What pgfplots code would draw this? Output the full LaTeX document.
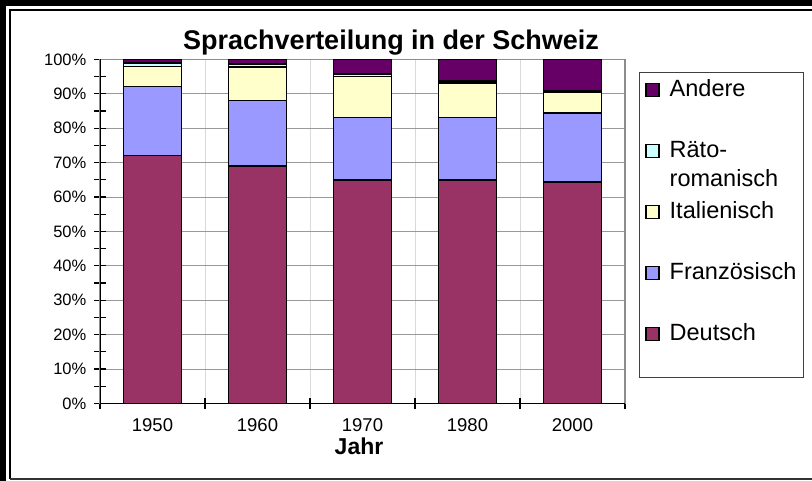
\documentclass[border=0pt]{standalone}
\usepackage{pgfplots}
\pgfplotsset{compat=1.18}
\usepackage{fontspec}
\setmainfont{Liberation Sans}
\definecolor{deu}{HTML}{993366}
\definecolor{fra}{HTML}{9999FF}
\definecolor{ita}{HTML}{FFFFCC}
\definecolor{rae}{HTML}{CCFFFF}
\definecolor{and}{HTML}{660066}
\pgfplotsset{sqleg/.style={legend image code/.code={\draw[##1,line width=1.3bp] (0bp,6.5bp) rectangle (13bp,19.5bp);}}}
\begin{document}
\begin{tikzpicture}
\useasboundingbox (0,0) rectangle (812bp,481bp);
\begin{axis}[
  at={(100bp,77.5bp)}, anchor=south west,
  width=525bp, height=344bp, scale only axis,
  ybar stacked, bar width=58bp,
  xmin=-0.5, xmax=4.5, ymin=0, ymax=100,
  xtick={-0.5,0.5,...,4.5}, xticklabels={},
  extra x ticks={0,1,2,3,4},
  extra x tick labels={1950,1960,1970,1980,2000},
  extra x tick style={grid=none, major tick length=0pt},
  ytick={0,10,...,100}, minor y tick num=1,
  yticklabel={\pgfmathprintnumber{\tick}\%},
  /pgf/number format/assume math mode=true,
  tick align=center, tick pos=left,
  major tick length=11bp, minor tick length=11bp,
  tick style={black, line width=1.2bp},
  xmajorgrids, ymajorgrids,
  x grid style={draw=black!15, line width=1bp},
  y grid style={draw=black!40, line width=1bp},
  axis line style={draw=black!45, line width=1.2bp},
  yticklabel style={font=\fontsize{16.5bp}{18bp}\selectfont, inner sep=0pt, xshift=-8bp},
  xticklabel style={font=\fontsize{18.5bp}{20bp}\selectfont, inner sep=0pt, yshift=-15bp},
  reverse legend,
  legend cell align=left,
  legend style={at={(1.02667,0.96366)}, anchor=north west, draw=black!75, line width=0.8bp,
    inner xsep=6bp, inner ysep=0pt, column sep=10bp,
    nodes={font=\fontsize{23.5bp}{29bp}\selectfont, text height=24bp, text depth=37bp,
      inner sep=0pt, text width=128bp, align=left}},
]
\addplot[fill=deu, draw=black, line width=1.6bp, sqleg] coordinates {(0,72.1) (1,69.1) (2,65.0) (3,65.0) (4,64.4)};
\addlegendentry{Deutsch}
\addplot[fill=fra, draw=black, line width=1.6bp, sqleg] coordinates {(0,20.0) (1,19.0) (2,18.1) (3,18.1) (4,20.0)};
\addlegendentry{Französisch}
\addplot[fill=ita, draw=black, line width=1.6bp, sqleg] coordinates {(0,5.9) (1,9.7) (2,11.9) (3,10.0) (4,6.2)};
\addlegendentry{Italienisch}
\addplot[fill=rae, draw=black, line width=1.6bp, sqleg] coordinates {(0,1.0) (1,0.9) (2,0.8) (3,0.6) (4,0.4)};
\addlegendentry{Räto-\\romanisch}
\addplot[fill=and, draw=black, line width=1.6bp, sqleg] coordinates {(0,1.0) (1,1.3) (2,4.2) (3,6.3) (4,9.0)};
\addlegendentry{Andere}
\draw[black, line width=1.5bp] (rel axis cs:0,1) -- (rel axis cs:0,0) -- (rel axis cs:1,0);
\end{axis}
\node[font=\fontsize{27bp}{31bp}\selectfont\bfseries, anchor=base] at (391bp,431.7bp) {Sprachverteilung in der Schweiz};
\node[font=\fontsize{23bp}{26bp}\selectfont\bfseries, anchor=base] at (359bp,26.5bp) {Jahr};
\fill[black] (0,0) rectangle (6bp,481bp);
\fill[black] (0,475bp) rectangle (812bp,481bp);
\draw[black, line width=1.3bp] (10bp,2bp) -- (10bp,471bp) -- (812bp,471bp);
\draw[black!80, line width=1.5bp] (10bp,2bp) -- (812bp,2bp);
\end{tikzpicture}
\end{document}
